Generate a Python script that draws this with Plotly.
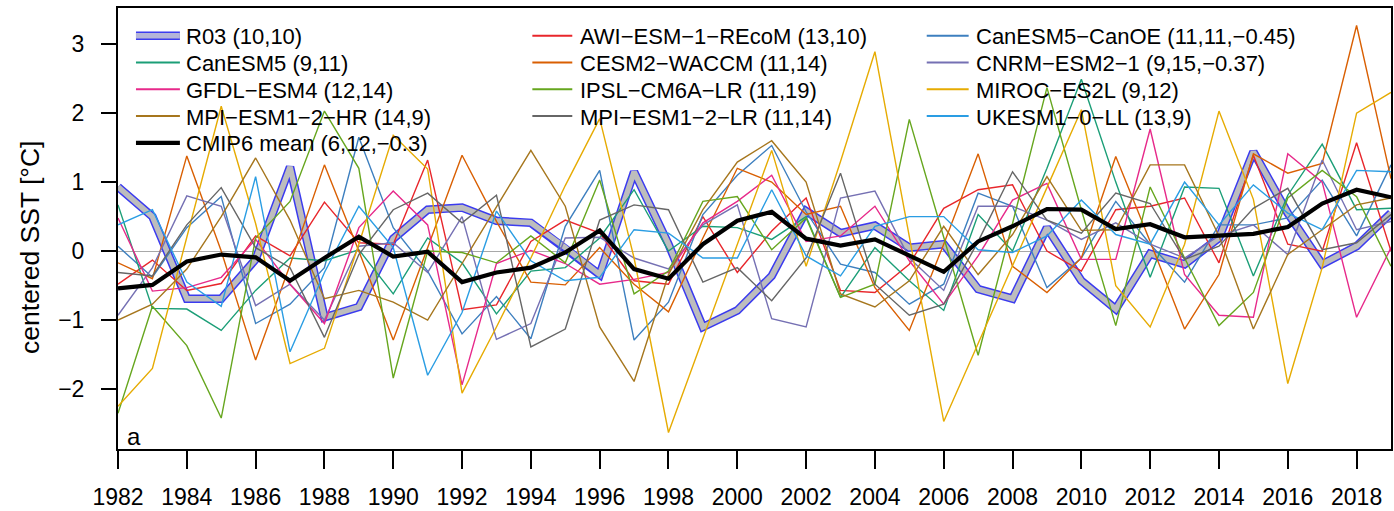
import plotly.graph_objects as go

# ---------------------------------------------------------------- data
years = list(range(1982, 2020))

r03 = [0.93, 0.50, -0.69, -0.69, -0.12, 1.22, -0.96, -0.81, 0.18, 0.60,
       0.63, 0.44, 0.41, 0.05, -0.34, 1.15, 0.10, -1.10, -0.86,
       -0.36, 0.58, 0.26, 0.37, 0.05, 0.10, -0.55, -0.69, 0.34,
       -0.43, -0.84, -0.04, -0.19, 0.19, 1.44, 0.55, -0.19, 0.07, 0.55]

cmip6_mean = [-0.54, -0.49, -0.15, -0.05, -0.09, -0.43, -0.10, 0.21, -0.08, -0.01,
              -0.45, -0.31, -0.24, -0.02, 0.30, -0.26, -0.40, 0.10, 0.44,
              0.57, 0.18, 0.08, 0.17, -0.07, -0.30, 0.14, 0.36, 0.61,
              0.60, 0.32, 0.39, 0.20, 0.22, 0.25, 0.35, 0.69, 0.89, 0.78]

awi = [-0.48, -0.13, -0.57, -0.47, 0.22, -0.07, 0.71, 0.12, 0.10, 1.32,
       -0.85, -0.78, 0.14, 0.45, 0.26, -0.43, -0.48, 0.50, -0.31,
       0.29, 0.77, -0.57, -0.60, -0.19, 0.62, 0.89, 0.96, 0.00,
       -0.29, 0.60, 0.65, 0.77, -0.17, 1.39, 0.10, 0.00, 1.57, 0.00]

canoe = [0.07, -0.38, 0.34, 0.79, -1.05, -0.77, -0.24, 1.65, 0.34, -0.29,
         -1.20, -0.66, -1.27, 0.36, 1.17, -1.29, -0.74, 0.53, 1.10,
         1.53, 0.57, -0.19, -0.31, -0.77, -0.48, 0.84, 0.65, -0.53,
         -0.10, 0.72, 0.10, -0.45, 0.38, 0.38, 0.48, 1.03, 0.22, 1.25]

canesm5 = [0.67, -0.83, -0.84, -1.15, -0.57, -0.10, -0.14, 0.02, -0.62, 0.19,
           -0.17, -0.91, -0.29, -0.24, 0.19, 0.89, 0.00, 0.36, 0.34,
           0.17, 0.50, -0.67, 0.05, -0.43, -0.86, 0.53, 0.00, 1.20,
           2.49, 1.00, -0.38, 0.93, 0.91, -0.36, 0.81, 1.55, 0.60, 0.62]

cesm2 = [-0.17, -0.40, 1.38, 0.00, -1.58, -0.20, 1.25, 0.00, -1.29, 0.05,
         1.39, 0.43, -0.45, -0.49, 0.05, -0.48, -0.88, 0.19, 1.20,
         1.00, 0.53, 0.65, -0.53, -1.15, 0.10, 1.41, -0.22, -0.60,
         -0.10, 1.37, 0.14, -1.13, -0.34, 1.41, 1.13, 1.27, 3.27, 1.05]

cnrm = [-0.93, -0.24, 0.80, 0.65, -0.79, -0.48, -1.00, 0.07, 0.12, -0.31,
        0.50, -1.28, -1.05, 0.19, 0.20, -0.10, -0.26, 0.38, 0.67,
        -0.98, -1.10, 0.77, 0.87, -0.10, -0.57, 0.65, 0.65, 0.45,
        0.17, 0.41, 0.10, -0.10, 0.22, 0.38, -0.05, 1.32, 0.31, 0.43]

gfdl = [0.48, -0.58, -0.53, -0.38, 0.17, -0.48, -1.05, 0.34, 0.87, 0.38,
        -1.94, -0.18, 0.01, -0.18, -0.48, -0.41, -0.31, 0.41, 0.72,
        1.10, 0.14, 0.22, 0.65, -0.14, -0.77, -0.07, 0.74, 0.98,
        -0.12, -0.12, 1.77, -0.34, -0.93, -0.96, 1.41, 1.00, -0.96, 0.05]

ipsl = [-2.35, -0.80, -1.37, -2.42, 0.19, 0.72, 2.03, 1.20, -1.84, 0.00,
        -0.02, -0.17, 0.22, -0.17, 1.03, -0.62, -0.29, 0.72, 0.79,
        0.02, 0.48, -0.67, -0.48, 1.91, 0.20, -1.51, 0.40, 2.37,
        0.60, -1.08, 0.93, -0.10, -1.08, -0.60, 0.77, 1.17, 0.79, -0.22]

miroc = [-2.25, -1.70, 0.20, 2.10, 0.40, -1.63, -1.41, 0.10, 1.68, 1.19,
         -2.06, -1.10, -0.10, 0.95, 1.92, -0.10, -2.63, -1.27, 0.10,
         1.46, -0.22, 1.30, 2.89, 0.20, -2.47, -1.34, -0.20, 0.92,
         2.05, -0.50, -1.10, 0.10, 2.03, 0.75, -1.92, -0.24, 2.00, 2.30]

mpi_hr = [-1.00, -0.77, -0.26, 0.50, 1.35, 0.45, -0.69, -0.57, -0.74, -1.00,
          -0.18, 0.64, 1.46, 0.65, -1.10, -1.89, -0.34, 0.60, 1.29,
          1.60, 1.00, -0.62, -0.81, -0.43, 0.36, -0.34, 0.24, 1.08,
          0.30, 0.31, 1.25, 1.25, 0.22, -1.13, -0.05, 0.31, 0.67, 0.77]

mpi_lr = [-0.31, -0.36, 0.38, 0.92, 0.05, -0.24, -1.25, -0.05, 0.60, 0.84,
          0.41, 0.81, -1.39, -1.13, 0.45, 0.67, 0.60, -0.45, -0.24,
          -0.72, -0.10, 1.13, -0.48, -0.93, -0.77, 0.14, 1.15, 0.45,
          0.26, 0.84, 0.69, -0.12, 0.07, 0.62, 0.91, 0.02, 0.12, 0.53]

ukesm = [0.38, 0.60, -0.45, -0.80, 1.08, -1.46, -0.31, 0.65, 0.05, -1.80,
         -0.89, 0.58, -0.14, -0.43, -0.38, 0.31, 0.26, -0.10, -0.10,
         0.89, -0.07, -0.36, 0.36, 0.50, 0.50, 0.02, -0.02, 0.22,
         0.74, 0.24, 0.10, 1.00, 0.38, 0.96, 0.55, 0.31, 1.17, 1.15]

# legend labels (row-wise, three columns)
lbl_r03 = "R03 (10,10)"
lbl_mean = "CMIP6 mean (6,12,\u22120.3)"
models = [
    ("AWI\u2212ESM\u22121\u2212REcoM (13,10)", awi, "#E8262B"),
    ("CanESM5\u2212CanOE (11,11,\u22120.45)", canoe, "#3D7FBF"),
    ("CanESM5 (9,11)", canesm5, "#1B9E77"),
    ("CESM2\u2212WACCM (11,14)", cesm2, "#D95F02"),
    ("CNRM\u2212ESM2\u22121 (9,15,\u22120.37)", cnrm, "#7570B3"),
    ("GFDL\u2212ESM4 (12,14)", gfdl, "#E7298A"),
    ("IPSL\u2212CM6A\u2212LR (11,19)", ipsl, "#66A61E"),
    ("MIROC\u2212ES2L (9,12)", miroc, "#E6AB02"),
    ("MPI\u2212ESM1\u22122\u2212HR (14,9)", mpi_hr, "#A6761D"),
    ("MPI\u2212ESM1\u22122\u2212LR (11,14)", mpi_lr, "#666666"),
    ("UKESM1\u22120\u2212LL (13,9)", ukesm, "#2A9DE3"),
]

# ---------------------------------------------------------------- layout geometry
W, H = 1394, 511
ML, MR, MT, MB = 118, 1, 8, 58
PW, PH = W - ML - MR, H - MT - MB
FONT = "Liberation Sans, Arial, sans-serif"


def px(xp):
    return (xp - ML) / PW


def py(yp):
    return (H - MB - yp) / PH


fig = go.Figure()

# R03: grey band with blue edges
fig.add_trace(go.Scatter(x=years, y=r03, mode="lines",
                         line=dict(color="#3B3BEF", width=8.5), hoverinfo="skip"))
fig.add_trace(go.Scatter(x=years, y=r03, mode="lines",
                         line=dict(color="#BDBDBD", width=5.5), hoverinfo="skip"))

for name, vals, col in models:
    fig.add_trace(go.Scatter(x=years, y=vals, mode="lines", name=name,
                             line=dict(color=col, width=1.4)))

fig.add_trace(go.Scatter(x=years, y=cmip6_mean, mode="lines", name=lbl_mean,
                         line=dict(color="black", width=4.2)))

# ---------------------------------------------------------------- legend (3 columns)
entries = [(lbl_r03, "r03")] + [(m[0], m[2]) for m in models] + [(lbl_mean, "mean")]
col_x = [(136, 180, 184), (533, 573, 579), (928, 970, 975)]
row_y = [36, 63, 90, 117, 144]
shapes = []
annotations = []
for i, (txt, style) in enumerate(entries):
    c, r = i % 3, i // 3
    if i == len(entries) - 1:
        c, r = 0, 4
    x0, x1, xt = col_x[c]
    yy = row_y[r]
    if style == "r03":
        shapes.append(dict(type="line", xref="paper", yref="paper",
                           x0=px(x0), x1=px(x1), y0=py(yy), y1=py(yy),
                           line=dict(color="#3B3BEF", width=8.5)))
        shapes.append(dict(type="line", xref="paper", yref="paper",
                           x0=px(x0), x1=px(x1), y0=py(yy), y1=py(yy),
                           line=dict(color="#B4B4D8", width=5.5)))
    elif style == "mean":
        shapes.append(dict(type="line", xref="paper", yref="paper",
                           x0=px(x0), x1=px(x1), y0=py(yy), y1=py(yy),
                           line=dict(color="black", width=4.2)))
    else:
        shapes.append(dict(type="line", xref="paper", yref="paper",
                           x0=px(x0), x1=px(x1), y0=py(yy), y1=py(yy),
                           line=dict(color=style, width=2)))
    annotations.append(dict(text=txt, xref="paper", yref="paper",
                            x=px(xt), y=py(yy + 1), xanchor="left", yanchor="middle",
                            showarrow=False, font=dict(family=FONT, size=22, color="black")))

# axis title and panel letter
annotations.append(dict(text="centered SST [\u00b0C]", xref="paper", yref="paper",
                        x=px(30), y=py(250), xanchor="center", yanchor="middle",
                        textangle=-90, showarrow=False,
                        font=dict(family=FONT, size=26.5, color="black")))
annotations.append(dict(text="a", xref="paper", yref="paper",
                        x=px(125), y=py(440), xanchor="left", yanchor="middle",
                        showarrow=False, font=dict(family=FONT, size=24, color="black")))

fig.update_layout(
    width=W, height=H,
    margin=dict(l=ML, r=MR, t=MT, b=MB, pad=0),
    paper_bgcolor="white", plot_bgcolor="white",
    showlegend=False,
    shapes=shapes, annotations=annotations,
    font=dict(family=FONT, color="black"),
)
fig.update_xaxes(range=[1982, 2019], tickmode="linear", tick0=1982, dtick=2,
                 showgrid=False, zeroline=False,
                 showline=True, mirror=True, linecolor="black", linewidth=2,
                 ticks="outside", ticklen=18, tickwidth=1.6, tickcolor="black",
                 ticklabelstandoff=8,
                 tickfont=dict(family=FONT, size=23, color="black"))
fig.update_yaxes(range=[-2.869, 3.524], tickvals=[-2, -1, 0, 1, 2, 3],
                 showgrid=False,
                 zeroline=True, zerolinecolor="#A8A8A8", zerolinewidth=1,
                 showline=True, mirror=True, linecolor="black", linewidth=2,
                 ticks="outside", ticklen=15, tickwidth=1.6, tickcolor="black",
                 ticklabelstandoff=12,
                 tickfont=dict(family=FONT, size=23, color="black"))

fig.write_html("out.html")
